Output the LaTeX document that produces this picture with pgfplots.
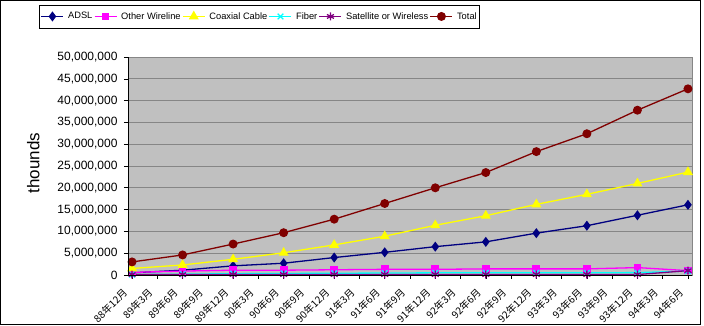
\documentclass[border=0pt]{standalone}
\usepackage{fontspec}
\setmainfont{Liberation Sans}
\newfontfamily\cjk{Noto Sans CJK TC}
\usepackage{pgfplots}
\pgfplotsset{compat=1.18}
\usepackage{pgfplotstable}
\definecolor{cADSL}{HTML}{000080}
\definecolor{cOther}{HTML}{FF00FF}
\definecolor{cCoax}{HTML}{FFFF00}
\definecolor{cFiber}{HTML}{00FFFF}
\definecolor{cSat}{HTML}{800080}
\definecolor{cTotal}{HTML}{800000}
\definecolor{plotbg}{HTML}{C0C0C0}
\definecolor{gridc}{HTML}{868686}

\pgfplotstableread{
x adsl other coax fiber sat total
0  500000  600000  1500000 100000 100000 3000000
2  1100000 900000  2300000 200000 100000 4600000
4  2100000 1100000 3600000 300000 100000 7100000
6  2700000 1100000 5100000 350000 100000 9700000
8  4000000 1200000 6900000 400000 100000 12800000
10 5200000 1300000 8900000 450000 100000 16400000
12 6500000 1300000 11400000 500000 100000 20000000
14 7600000 1400000 13600000 500000 100000 23500000
16 9600000 1400000 16200000 500000 100000 28300000
18 11300000 1400000 18500000 500000 100000 32400000
20 13700000 1700000 21000000 550000 100000 37800000
22 16100000 1000000 23600000 900000 1000000 42700000
}\data

\begin{document}
\begin{tikzpicture}
\useasboundingbox (-128pt,-51pt) rectangle (576pt,275pt);
\begin{axis}[
  at={(0pt,0pt)}, anchor=south west,
  scale only axis, width=564pt, height=218pt,
  xmin=-0.16, xmax=22.16, ymin=0, ymax=50000000,
  xtick={0,...,22},
  xticklabels={88年12月,89年3月,89年6月,89年9月,89年12月,90年3月,90年6月,90年9月,90年12月,91年3月,91年6月,91年9月,91年12月,92年3月,92年6月,92年9月,92年12月,93年3月,93年6月,93年9月,93年12月,94年3月,94年6月},
  xticklabel style={font=\cjk\fontsize{10}{10}\selectfont, anchor=north east, inner sep=1pt, xshift=-10pt, yshift=-7pt, rotate=45},
  ytick={0,5000000,...,50000000},
  scaled y ticks=false,
  /pgf/number format/.cd, fixed, 1000 sep={,}, assume math mode=true,
  /pgfplots/.cd,
  yticklabel style={font=\fontsize{12}{12}\selectfont, xshift=-3pt},
  xtick pos=lower, ytick pos=left,
  tick align=outside, major tick length=4pt,
  tick style={black, line width=0.6pt},
  ymajorgrids, grid style={gridc, line width=0.8pt},
  axis background/.style={fill=plotbg},
  axis line style={gridc, line width=0.8pt},
  ylabel={thounds},
  ylabel style={font=\fontsize{17}{17}\selectfont, at={(axis description cs:-0.168,0.514)}, anchor=center},
  legend columns=6,
  legend style={at={(axis description cs:0.2323,1.186)}, anchor=center, draw=black, fill=white,
    font=\fontsize{9.3}{11}\selectfont, inner xsep=2pt, inner ysep=7pt,
    nodes={inner sep=0.5pt},
    /tikz/every even column/.append style={column sep=1pt},
    /tikz/every odd column/.append style={column sep=3.5pt}},
  legend image code/.code={\draw[mark repeat=2,mark phase=2] plot coordinates {(0pt,0pt) (11pt,0pt) (22pt,0pt)};},
  every axis plot/.append style={line width=1.3pt, mark options={solid}},
  after end axis/.code={
    \draw[black, line width=0.8pt] (rel axis cs:0,0) -- (rel axis cs:0,1);
    \draw[black, line width=0.8pt] (rel axis cs:0,0) -- (rel axis cs:1,0);
  },
]
\addplot[cADSL, mark=diamond*, mark size=4pt, mark options={fill=cADSL}] table[x=x,y=adsl] {\data};
\addlegendentry{ADSL}
\addplot[cOther, mark=square*, mark size=3.2pt, mark options={fill=cOther}] table[x=x,y=other] {\data};
\addlegendentry{Other Wireline}
\addplot[cCoax, mark=triangle*, mark size=4.5pt, mark options={fill=cCoax}] table[x=x,y=coax] {\data};
\addlegendentry{Coaxial Cable}
\addplot[cFiber, mark=x, mark size=4pt] table[x=x,y=fiber] {\data};
\addlegendentry{Fiber}
\addplot[cSat, mark=asterisk, mark size=4pt] table[x=x,y=sat] {\data};
\addlegendentry{Satellite or Wireless}
\addplot[cTotal, mark=*, mark size=3.8pt, mark options={fill=cTotal}] table[x=x,y=total] {\data};
\addlegendentry{Total}
\end{axis}
\draw[black, line width=1pt] (-127pt,-50pt) rectangle (572pt,274pt);
\end{tikzpicture}
\end{document}
